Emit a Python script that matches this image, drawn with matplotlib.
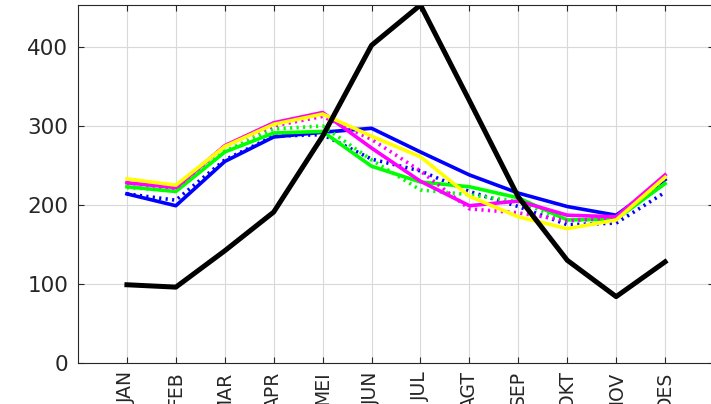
import numpy as np
import matplotlib
matplotlib.use('Agg')
import matplotlib.pyplot as plt

months = ["JAN", "FEB", "MAR", "APR", "MEI", "JUN", "JUL", "AGT", "SEP", "OKT", "NOV", "DES"]

obs = [99, 96, 142, 191, 287, 402, 453, 332, 210, 130, 84, 128]
blue = [214, 199, 255, 286, 292, 297, 267, 238, 215, 198, 187, 232]
blue_dot = [214, 206, 257, 287, 289, 258, 243, 217, 198, 175, 177, 216]
green = [223, 217, 267, 291, 293, 249, 229, 223, 209, 181, 182, 227]
green_dot = [222, 218, 268, 296, 300, 257, 219, 213, 204, 180, 183, 228]
magenta = [228, 222, 275, 304, 317, 272, 230, 199, 205, 187, 185, 238]
magenta_dot = [228, 221, 275, 300, 312, 283, 243, 195, 190, 180, 184, 234]
yellow = [233, 225, 274, 302, 315, 287, 261, 211, 185, 170, 181, 235]

x = np.arange(1, len(months) + 1)

fig = plt.figure(figsize=(7.11, 4.04), dpi=100)
ax = fig.add_axes([78 / 711, 41 / 404, 636 / 711, 358 / 404])

dots = (0.6, 1.2)
ax.plot(x, blue, color="#0000ff", lw=2.6)
ax.plot(x, blue_dot, color="#0000ff", lw=2.6, linestyle=(0, dots))
ax.plot(x, green, color="#00ff00", lw=2.6)
ax.plot(x, green_dot, color="#00ff00", lw=2.6, linestyle=(0, dots))
ax.plot(x, magenta, color="#ff00ff", lw=2.6)
ax.plot(x, magenta_dot, color="#ff00ff", lw=2.6, linestyle=(0, dots))
ax.plot(x, yellow, color="#ffff00", lw=2.6)
ax.plot(x, obs, color="black", lw=3.6)

ax.set_xlim(0, 13)
ax.set_ylim(0, max(obs))
ax.set_xticks(x)
ax.set_xticklabels(months, rotation=90)
ax.set_yticks([0, 100, 200, 300, 400])
ax.grid(True, color="#d9d9d9", lw=0.8)
ax.set_axisbelow(True)
ax.tick_params(direction="in", top=True, right=True,
               colors="#262626", length=4, width=0.8, pad=7)
ax.tick_params(axis="y", labelsize=15.5)
ax.tick_params(axis="x", labelsize=13.5, pad=6)
for s in ax.spines.values():
    s.set_color("#262626")
    s.set_linewidth(0.8)
ax.spines["right"].set_visible(False)

fig.savefig("out.png", dpi=100)
